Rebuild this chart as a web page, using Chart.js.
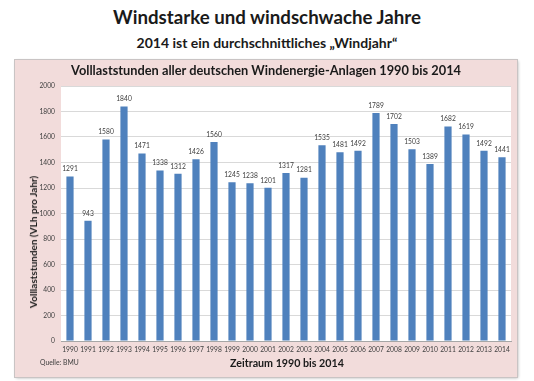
<!DOCTYPE html>
<html>
<head>
<meta charset="utf-8">
<script src="https://cdn.jsdelivr.net/npm/chart.js@4/dist/chart.umd.min.js"></script>
<style>
  html, body { margin:0; padding:0; background:#fff; }
  body { width:534px; height:381px; position:relative; overflow:hidden; font-family: Lato, "Open Sans", sans-serif; color:#1a1a1a; }
  .t { position:absolute; white-space:nowrap; font-weight:bold; }
  #main { left:0; width:534px; text-align:center; top:6px; font-size:18.7px; }
  #sub { left:0; width:534px; text-align:center; top:34px; font-size:14px; }
  #box { position:absolute; left:15px; top:60px; width:502px; height:317px; background:#f2dcdb; box-shadow: 0 0 0 1px #c9c4c4, 1px 1px 3px #b0b0b0; }
  #ctitle { left:0; width:502px; text-align:center; top:2px; font-size:12.8px; }
  #ytitle { left:18px; top:182px; font-size:10px; transform: translate(-50%,-50%) rotate(-90deg); }
  #xtitle { left:0; width:502px; text-align:center; top:296px; font-size:10.7px; padding-left:42px; box-sizing:border-box; }
  #src { left:25px; top:298px; font-size:6.8px; font-weight:normal; color:#404040; }
  canvas { position:absolute; left:0; top:0; }
</style>
</head>
<body>
<div class="t" id="main">Windstarke und windschwache Jahre</div>
<div class="t" id="sub">2014 ist ein durchschnittliches „Windjahr“</div>
<div id="box">
  <canvas id="c" width="502" height="317"></canvas>
  <div class="t" id="ctitle">Volllaststunden aller deutschen Windenergie-Anlagen 1990 bis 2014</div>
  <div class="t" id="ytitle">Volllaststunden (VLh pro Jahr)</div>
  <div class="t" id="xtitle">Zeitraum 1990 bis 2014</div>
  <div class="t" id="src">Quelle: BMU</div>
</div>
<script>
const years = ["1990","1991","1992","1993","1994","1995","1996","1997","1998","1999","2000","2001","2002","2003","2004","2005","2006","2007","2008","2009","2010","2011","2012","2013","2014"];
const hours = [1291,943,1580,1840,1471,1338,1312,1426,1560,1245,1238,1201,1317,1281,1535,1481,1492,1789,1702,1503,1389,1682,1619,1492,1441];
const yTicks = [0,200,400,600,800,1000,1200,1400,1600,1800,2000];

const plotBg = {
  id:'plotBg',
  beforeDraw(chart){
    const {ctx, chartArea:a} = chart;
    ctx.save(); ctx.fillStyle='#ffffff';
    ctx.fillRect(a.left, a.top, a.right-a.left, a.bottom-a.top);
    ctx.restore();
  }
};
const valueLabels = {
  id:'valueLabels',
  afterDatasetsDraw(chart){
    const {ctx} = chart;
    const meta = chart.getDatasetMeta(0);
    ctx.save();
    ctx.font = '6.7px Lato, sans-serif';
    ctx.fillStyle = '#404040';
    ctx.textAlign = 'center';
    ctx.textBaseline = 'bottom';
    meta.data.forEach((bar,i)=>{
      ctx.fillText(String(hours[i]), bar.x, bar.y - 4);
    });
    ctx.restore();
  }
};

new Chart(document.getElementById('c'), {
  type:'bar',
  data:{ labels: years, datasets:[{ data: hours, backgroundColor:'#4f81bd', borderWidth:0, barPercentage:0.4, categoryPercentage:1 }]},
  options:{
    responsive:false, animation:false,
    layout:{ padding:{ top:26, right:6, left:0, bottom:0 } },
    plugins:{ legend:{display:false}, tooltip:{enabled:false} },
    scales:{
      x:{
        grid:{ display:false, drawTicks:false },
        border:{ color:'#a6a6a6' },
        ticks:{ font:{ size:6.7, family:'Lato' }, color:'#404040', padding:5, autoSkip:false, maxRotation:0 },
        afterFit(s){ s.height = 36; }
      },
      y:{
        min:0, max:2000,
        afterBuildTicks(s){ s.ticks = yTicks.map(v=>({value:v})); },
        grid:{ color:'#d9d9d9', drawTicks:false },
        border:{ display:false },
        ticks:{ font:{ size:6.7, family:'Lato' }, color:'#404040', padding:6, callback:(v)=>String(v) },
        afterFit(s){ s.width = 46; }
      }
    }
  },
  plugins:[plotBg, valueLabels]
});
</script>
</body>
</html>
